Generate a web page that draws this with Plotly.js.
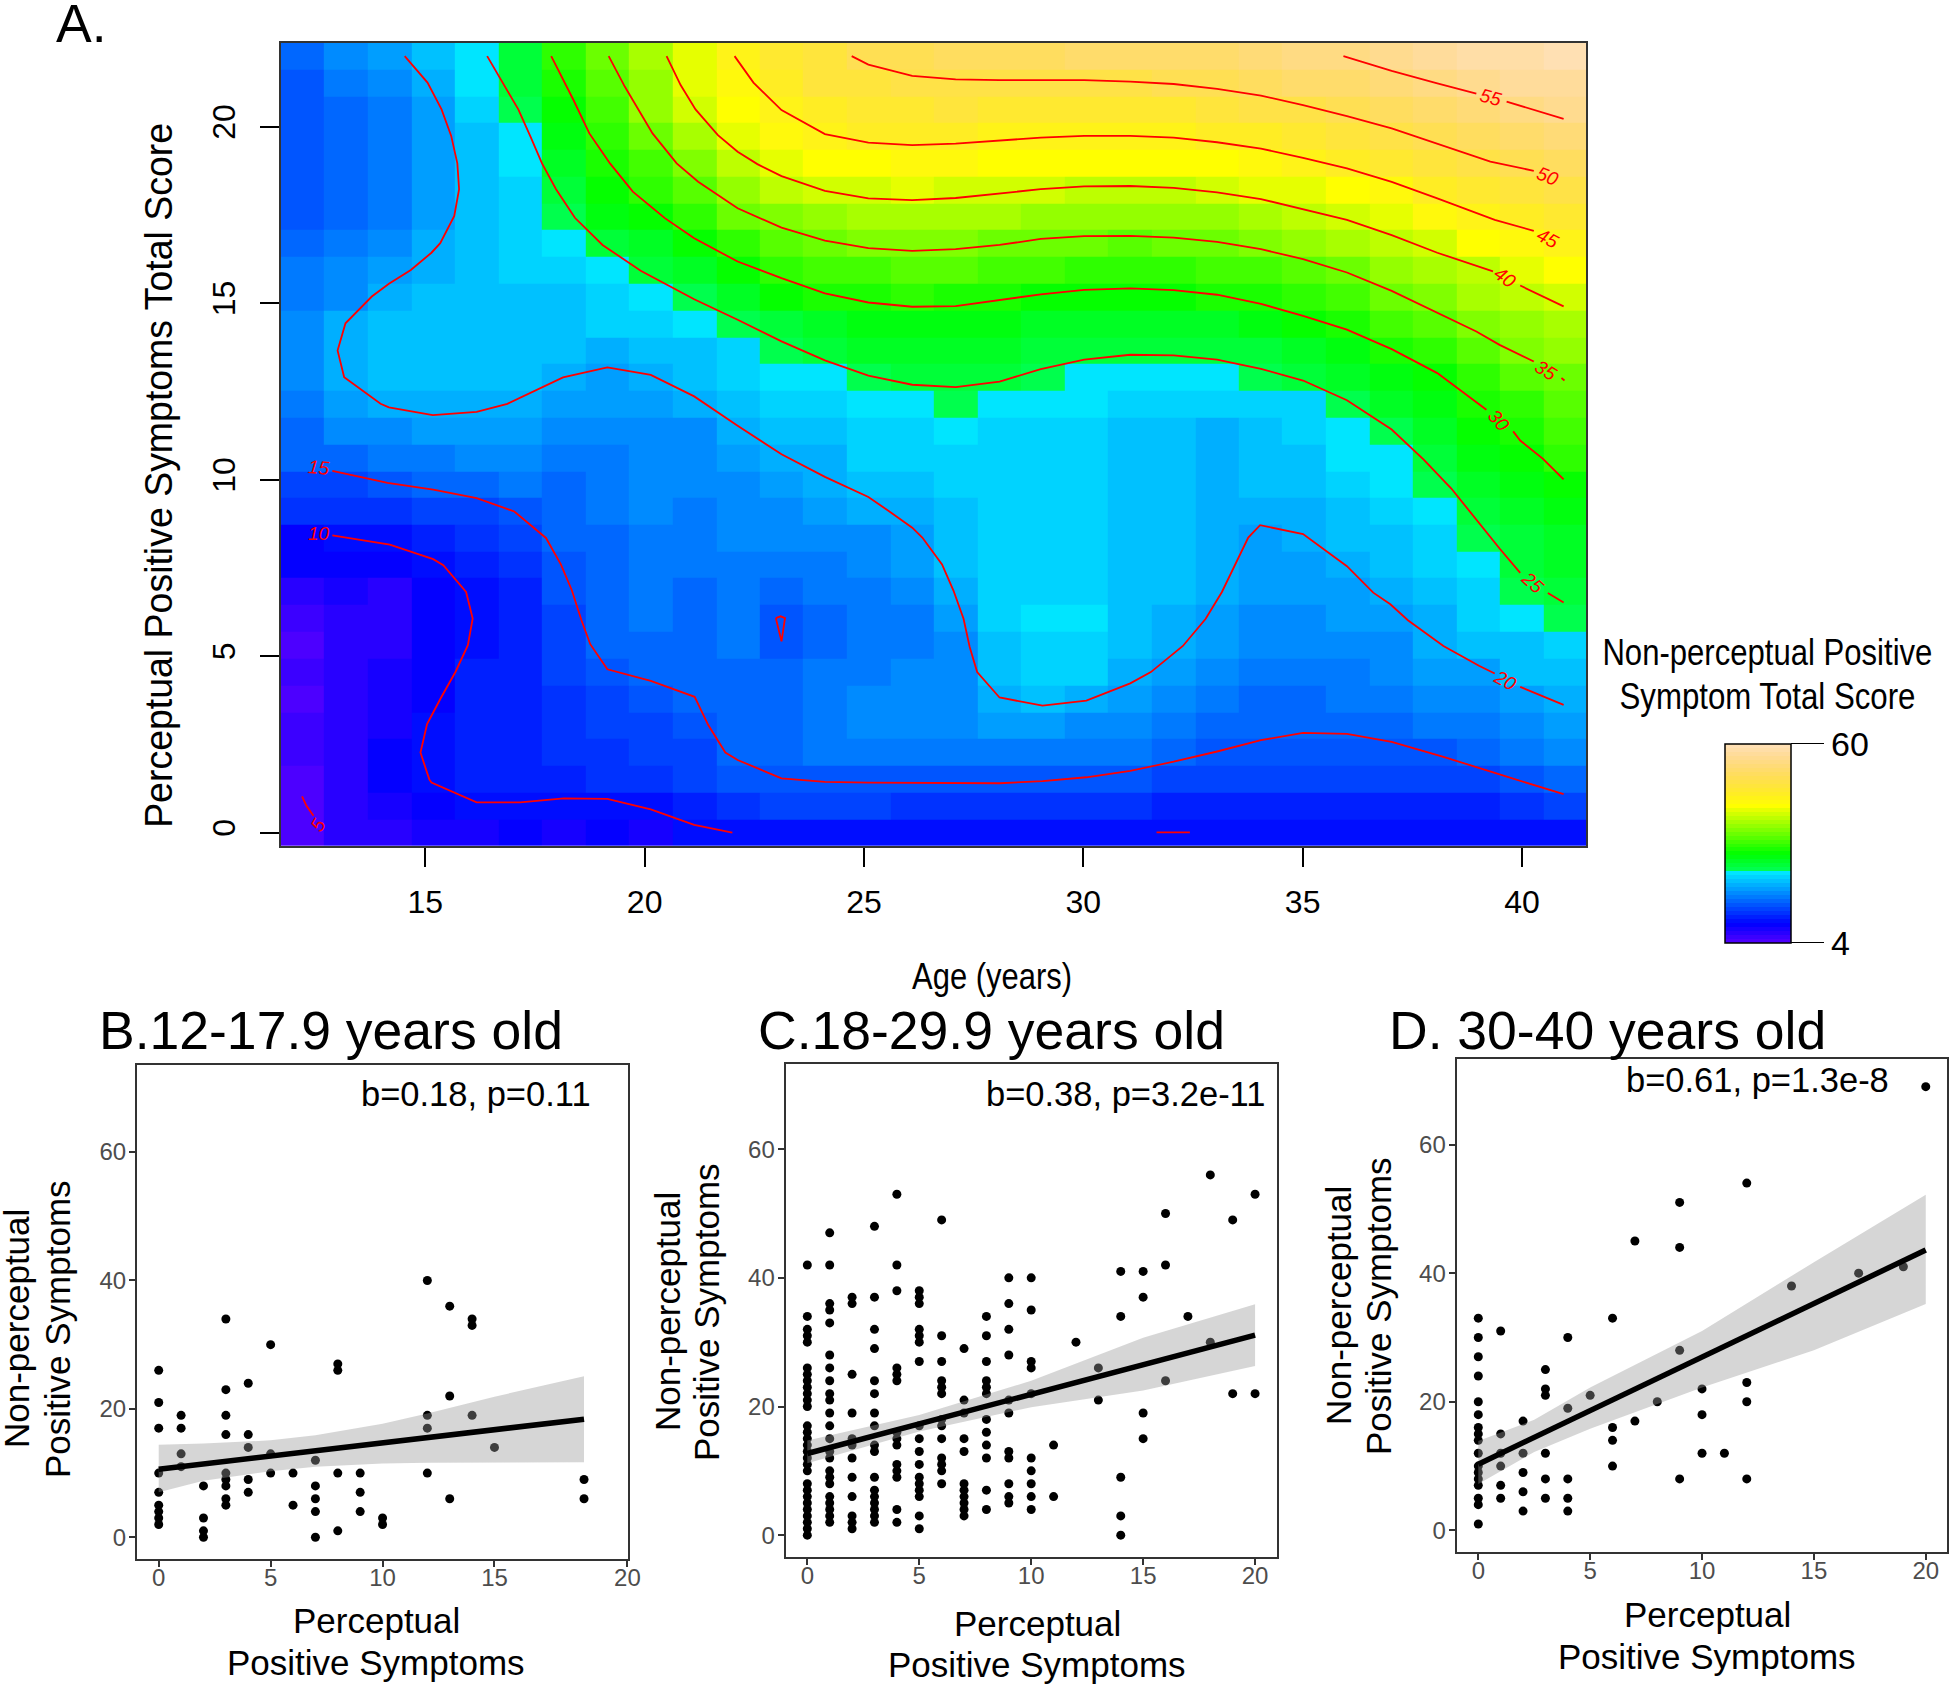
<!DOCTYPE html>
<html><head><meta charset="utf-8">
<script src="https://cdn.plot.ly/plotly-3.0.1.min.js"></script>
<style>html,body{margin:0;padding:0;background:#fff}#p{width:1950px;height:1686px}</style></head>
<body><div id="p"></div>
<script>
const W=1950,H=1686;
const SANS='"Liberation Sans", Arial, sans-serif';

// ---------- Panel A: grid ----------
const ages=[12.2,13.19,14.19,15.18,16.17,17.17,18.16,19.15,20.14,21.14,22.13,23.12,24.11,25.11,26.1,27.09,28.09,29.08,30.07,31.06,32.06,33.05,34.04,35.03,36.03,37.02,38.01,39.01,40,40.99];
const scores=[0,.76,1.52,2.28,3.03,3.79,4.55,5.31,6.07,6.83,7.59,8.34,9.1,9.86,10.62,11.38,12.14,12.9,13.66,14.41,15.17,15.93,16.69,17.45,18.21,18.97,19.72,20.48,21.24,22];
// one list per age column, lowest score first
const byAge=[
[4.8,5,5.1,5.8,6,5,5.8,5.1,6,6.8,8.5,9.5,12,14,15.5,16,17,18,18.5,18.5,16.5,16.5,15.5,15,14.7,14.5,14.5,14.5,15,15.5],
[6.5,7,7,7,7,7.3,7.3,6.3,6.3,7.5,9.3,10,12,14,16.2,17.5,19,20,20.3,20,18.5,17.5,17,16,15.7,15.3,15.3,15.7,16.5,18],
[7.3,8,9,9,8,7.8,7.8,7.3,7,7,9,10.4,12.7,14.8,16.5,18.2,20.2,21,21.3,21,20.7,19.3,18.2,17.2,16.7,16.5,16.5,16.5,17.5,19],
[8,9.3,10.2,10.5,10.3,9.5,9.3,9,8.8,8.9,9.7,11,13.3,15.3,17.2,19,20.7,21.5,21.8,21.8,21.3,20.7,19.8,19,18.7,18.7,18.9,19.6,20.3,21.5],
[8,9.8,10.8,11,11,11,10.8,10.5,10.2,10.5,11.3,12,13.8,15.8,18,19.5,20.6,21.5,21.7,21.6,21.5,20.8,20.8,20.8,20.8,21.5,21.7,23,23.2,24],
[8.5,10.2,11,11.6,11.6,11.6,11.6,11.6,11.6,11.6,12.6,13.8,15.2,16.5,18.4,19.5,20.3,21,21.8,21.8,21.8,22,22.5,23,23,24,24,25,25.5,26],
[8.3,9.8,11.7,12.1,12.2,12.6,13,13.5,14,14.7,15.1,15.5,15.8,16.2,17,18,19,20,21,21.4,21.6,22.8,23.5,24.5,25.7,27.1,28.3,29.5,29.8,31.5],
[8.5,9.9,12,12.8,13,13.8,14.9,15.4,15.6,15.8,16,16,16.4,16.7,17,17.5,18.9,19.5,20.7,22,22.7,24,25.3,27.8,28.8,30,31.8,33,33.9,34.9],
[8.2,10.3,12.7,13.5,14,15.2,15.8,16.3,16.7,17.3,17.3,17.4,17.5,17.6,17.7,18.2,19,19.9,20.8,23,24,25.5,27.5,29.5,31.5,33,34.6,36.5,37.5,38.6],
[9.7,11.8,13,14,14.8,15.3,15.8,15.9,16,16.2,16.5,16.7,17.3,17.5,17.8,18.5,19.8,20.8,21.8,24,25.2,27.3,29.5,31.5,34,36.2,38,40,41.1,42],
[10,12.7,14.5,15.5,16,16.1,16.3,16.4,16.6,16.9,17.3,17.5,18,18.5,19,19.8,21,22,23,24.7,27.2,29.3,31.5,34.5,37.3,39.3,41.2,42.5,43.8,45.4],
[10.5,13,15.1,16,15.8,15.6,15.3,14.9,15,15.8,16.5,17.5,18,19,19.8,21.3,22.3,23.2,24.3,26.4,28.8,31.1,33.7,36.2,39,41.7,43.5,45.1,46.3,47],
[10.6,13.2,14.9,16.9,17.2,17,16.5,16.2,16,16.5,17.3,18,19,19.7,20.7,21.8,22.6,24,25.8,27.3,29.8,32.1,34.7,37.4,40.1,42.6,44.9,46.5,47.8,48.8],
[10.5,13,15,17,18,17.5,17,16.7,16.5,17,17.7,18.5,19.7,20.9,22.3,23,24,25.1,26.7,28.1,30.3,32.6,35.4,38.1,40.8,43,45.5,47.2,48.8,50.5],
[10.3,12.7,14.8,17.1,18.2,18,17.5,17.4,17.3,18,18.7,19.4,20.6,21.7,22.6,23,24,25.4,27,28.5,30.9,33.4,35.8,38.5,41,43.4,45.7,47.6,49.5,51],
[10.2,12.5,14.7,17,18.1,18.2,18.3,18.5,19.2,20.2,21.4,21.4,21.4,22.5,22.5,23.6,24.4,25.8,27,28.3,30.8,33.3,35.6,38.4,40.8,43.2,45.6,47.7,49.7,51.3],
[10,12.3,14.6,16.8,18.9,20.1,21,21.9,22.2,22.5,22.5,22.5,22.5,22.5,22.5,22.5,23.5,25.3,26.8,28.2,30.4,32.9,35.1,37.9,40.3,42.7,45.3,47.5,49.8,51.6],
[10,12.3,14.9,17,18.9,21.2,22.2,22.4,23.4,22.7,22.7,22.7,22.7,22.7,22.5,22.5,23.5,24.5,26,27.4,29.7,32.3,34.4,37.2,39.9,42.5,45.1,47.2,49.8,52],
[10,12.2,14.7,16.4,18.3,20.3,22.2,22.5,23.4,22.7,22.7,22.7,22.7,22.7,22.5,22.5,23.5,24,25.7,27,29.3,31.7,34.3,36.9,39.6,42.3,44.9,47,49.8,52.3],
[9.9,12,14.5,16.4,18,19.5,20.3,20.8,21.5,21.5,21.5,21.5,21.5,21.5,21.4,21.4,22.5,23.9,25.3,27,29,31.5,34.1,36.8,39.5,42.2,44.9,47,49.9,52.6],
[9.8,11.5,13.8,15.5,16.6,18,19.3,20.2,20.7,21.4,21.4,21.4,21.4,20.9,21.4,21.4,22.5,24,25.4,27,29.3,31.8,34.3,37,39.7,42.4,45,47.1,50.1,52.9],
[9.7,11.2,13.4,15,15.8,16.5,17.5,18.8,19.5,20.2,20.7,20.7,20.7,20.5,20.2,20.2,22.5,23.9,25.6,27.5,29.8,32.2,34.8,37.5,40.2,43,45.5,47.8,50.6,53.2],
[9.7,11,13,14.5,15.6,16.2,16.9,17.8,18.3,18.8,19.2,19.6,20.3,21,21.4,21.6,22.5,24.6,26.4,28.3,30.5,33,35.4,38.2,41,43.7,46.2,48.9,51.5,53.6],
[9.7,11.2,13.4,15,15.7,16.3,16.9,17.5,17.8,18.8,19.3,19.7,20.7,21.2,21.6,22.5,22.8,25.3,27.3,29.2,31.5,34,36.5,39.2,41.8,44.5,47.2,49.6,52.2,54.4],
[9.8,11.2,13.3,15,15.8,16.6,17.3,18,18.7,19.4,20,20.8,21.5,22.4,23.3,24,24.8,26.7,28.5,30.5,32.8,35.2,37.6,40.3,43,45.5,48,50.6,53,55.2],
[9.8,11.1,13,14.6,16.2,16.9,17.6,18.5,19.3,20.5,21.2,21.8,22.3,23.2,24.1,25.1,26.6,27.6,29.8,32.2,34.5,36.5,39,41.5,44.3,46.8,49.2,51.6,54,56],
[9.8,11.3,13.3,15.1,16.8,17.8,18.7,19.8,20.5,21.2,22,23,24,24.4,25.7,27,28.2,29.6,31.8,34,36.2,38.5,40.7,43.2,45.7,48.2,50.5,52.8,54.9,56.9],
[9.8,11.5,13.7,15.9,17.3,18.5,19.6,20.9,22.1,23,24,24.3,25.5,26.5,27.6,28.8,29.9,31.9,33.7,35.7,37.7,39.8,42.2,44.8,47.2,49.4,51.7,53.7,55.9,57.8],
[10,12.2,15.1,16.9,18,19.3,20.8,21.9,23.9,24.4,25.4,26,27,28,28.9,30.5,31.5,33.3,35.4,37.3,39.3,41.2,43.4,45.9,48.2,50.4,52.6,54.6,56.8,58.6],
[10.6,13.3,16.2,17.5,18.9,20.4,21.8,23,24.4,25.3,26.5,27.5,28.5,29.6,31.1,32,33.5,35.2,36.9,38.7,40.6,42.3,45.3,47.5,49.7,51.9,53.8,55.8,57.7,59.4]
];

// ---------- Panel A: contour lines, [age, score] pairs; null marks a gap ----------
const contour5=[[12.19,1.03],[12.29,.76],[12.45,.48]];
const contour10=[[12.88,8.42],[14.19,8.16],[15.18,7.75],[15.41,7.58],[15.93,6.82],[16.08,6.07],[15.97,5.31],[15.69,4.56],[15.36,3.83],[15.04,3.08],[14.89,2.27],[15.09,1.51],[15.14,1.42],[16.17,.86],[17.16,.86],[18.16,.97],[19.15,.96],[20.14,.66],[21.13,.22],[22,0]];
const contour10b=[[31.67,.01],[32.43,.01]];
const contour15=[[12.88,10.25],[14.14,9.91],[15.18,9.72],[16.17,9.48],[17.03,9.1],[17.16,8.96],[17.75,8.35],[18.09,7.6],[18.34,6.87],[18.56,6.02],[18.76,5.34],[19.15,4.63],[20.14,4.3],[21.14,3.85],[21.45,3.05],[21.84,2.27],[22.12,2.06],[23.12,1.54],[24.11,1.44],[25.1,1.42],[27.46,1.4],[28.09,1.4],[29.07,1.46],[30.07,1.57],[31.07,1.75],[32.06,2.01],[33.05,2.3],[34.05,2.62],[35.01,2.83],[36.01,2.8],[37.03,2.57],[38.21,2.15],[39.49,1.65],[40.95,1.09]];
const contour15b=[[22.99,6.08],[23.1,6.13],[23.2,6.08],[23.12,5.42],[22.99,6.08]];
const contour20=[[14.53,22],[15.05,21.25],[15.37,20.49],[15.59,19.74],[15.73,18.96],[15.77,18.23],[15.66,17.47],[15.34,16.7],[15.14,16.43],[14.67,15.94],[14.17,15.55],[13.78,15.19],[13.18,14.43],[13,13.66],[13.15,12.9],[13.98,12.15],[14.17,12.05],[15.17,11.83],[16.17,11.92],[16.87,12.15],[18.14,12.9],[19.15,13.18],[20.14,12.97],[21.13,12.36],[22.12,11.53],[23.12,10.72],[24.11,10.08],[25.1,9.51],[25.58,9.1],[26.1,8.64],[26.33,8.36],[26.78,7.6],[27.04,6.86],[27.27,6.06],[27.41,5.26],[27.58,4.55],[28.09,3.83],[29.07,3.6],[30.07,3.74],[31.07,4.23],[31.54,4.55],[32.27,5.29],[32.79,6.06],[33.16,6.82],[33.76,8.36],[34.03,8.71],[35.01,8.46],[36.01,7.55],[36.61,6.8],[37,6.47],[37.4,6.02],[38.21,5.29],[39.02,4.73],[39.38,4.51],[null,null],[39.96,4.13],[40.95,3.62]];
const contour25=[[16.41,22],[16.69,21.42],[17.12,20.49],[17.39,19.74],[17.66,18.96],[17.98,18.23],[18.41,17.42],[19.04,16.65],[19.91,15.92],[21.13,15.11],[22.12,14.53],[23.12,13.92],[24.11,13.38],[25.1,12.95],[26.1,12.69],[27.09,12.62],[28.09,12.78],[29.03,13.13],[30.02,13.4],[31.07,13.54],[32.06,13.52],[33.05,13.4],[34.05,13.14],[35.01,12.81],[36.01,12.25],[37.03,11.42],[37.29,11.11],[37.76,10.57],[38.39,9.75],[39.02,8.76],[39.49,8.05],[39.96,7.36],[null,null],[40.59,6.79],[40.95,6.52]];
const contour30=[[17.87,22],[18.38,20.75],[18.74,19.81],[19.21,18.96],[19.73,18.16],[20.46,17.41],[21.13,16.84],[22.12,16.18],[23.12,15.71],[24.11,15.28],[25.1,15.02],[26.1,14.9],[27.09,14.92],[28.09,15.08],[29.03,15.25],[30.02,15.38],[31.07,15.42],[32.06,15.37],[33.05,15.24],[34.05,14.98],[35.01,14.64],[36.01,14.25],[37.03,13.7],[38.07,13.02],[39.19,11.98],[null,null],[39.8,11.37],[39.96,11.11],[40.48,10.59],[40.95,10.01]];
const contour35=[[19.18,22],[19.55,21.13],[20.18,19.81],[20.73,18.96],[21.22,18.44],[22.12,17.69],[23.12,17.14],[24.11,16.77],[25.1,16.56],[26.1,16.48],[27.09,16.53],[28.09,16.65],[29.03,16.82],[30.02,16.9],[31.07,16.91],[32.06,16.86],[33.05,16.74],[34.05,16.53],[35.01,16.25],[36.01,15.87],[37.03,15.35],[38.07,14.72],[38.96,14.2],[39.49,13.82],[40.27,13.35],[null,null],[40.9,12.88],[40.97,12.81]];
const contour40=[[20.5,22],[20.82,21.18],[21.16,20.49],[21.67,19.76],[22.12,19.29],[22.57,18.94],[23.12,18.6],[24.11,18.18],[25.1,17.97],[26.1,17.92],[27.09,17.98],[28.09,18.11],[29.03,18.23],[30.02,18.31],[31.07,18.32],[32.06,18.27],[33.05,18.14],[34.05,17.95],[35.01,17.67],[36.01,17.36],[37.03,16.93],[38.07,16.43],[39.34,15.9],[null,null],[39.96,15.5],[40.95,14.91]];
const contour45=[[22.05,22],[22.48,21.25],[23.12,20.47],[24.11,19.79],[25.1,19.55],[26.1,19.48],[27.09,19.52],[28.09,19.6],[29.03,19.69],[30.02,19.74],[31.07,19.74],[32.06,19.69],[33.05,19.56],[34.05,19.38],[35.01,19.12],[36.01,18.82],[37.03,18.44],[38.07,17.97],[39.38,17.36],[40.27,17.05]];
const contour50=[[24.72,22],[25.1,21.76],[26.1,21.44],[27.09,21.34],[28.09,21.32],[29.03,21.32],[30.02,21.32],[31.07,21.28],[32.06,21.21],[33.05,21.07],[34.05,20.88],[35.01,20.61],[36.01,20.3],[37.03,19.95],[38.07,19.51],[39.28,19.01],[40.27,18.75]];
const contour55=[[35.93,22],[37.03,21.58],[38.07,21.23],[38.96,20.94],[null,null],[39.65,20.71],[40.95,20.22]];
const contourLabels=[["5",12.57,.22,-60],["10",12.57,8.49,0],["15",12.57,10.34,5],["20",39.62,4.32,28],["25",40.24,7.08,42],["30",39.47,11.68,48],["35",40.55,13.09,32],["40",39.62,15.72,36],["45",40.6,16.84,28],["50",40.6,18.6,22],["55",39.3,20.82,14]];

// ---------- Panel B ----------
const bX=[0,0,0,0,0,0,0,0,0, 1,1,1,1, 2,2,2,2, 3,3,3,3,3,3,3,3,3, 4,4,4,4,4, 5,5,5, 6,6, 7,7,7,7,7, 8,8,8,8, 9,9,9, 10,10, 12,12,12,12, 13,13,13, 14,14,14, 15, 19,19];
const bY=[26,21,17,10,7,5,4,3,2, 19,17,13,11, 8,3,1,0, 34,23,19,16,10,9,8,6,5, 24,16,14,9,7, 30,13,10, 10,5, 12,8,6,4,0, 27,26,10,1, 10,7,4, 3,2, 40,19,17,10, 36,22,6, 34,33,19, 14, 9,6];
const bFitX=[0,19], bFitY=[10.6,18.4];
const bCiX=[0,2,5,7,10,12,15,19];
const bCiHi=[14.4,14.6,15.1,15.9,17.7,19.3,21.9,25.1];
const bCiLo=[7,8.8,10.3,11,11.5,11.6,11.7,11.7];
// ---------- Panel C ----------
const cX=[0,0,0,0,0,0,0,0,0,0,0,0,0,0,0,0,0,0,0,0,0,0,0,0,0,0,0,0,0,
1,1,1,1,1,1,1,1,1,1,1,1,1,1,1,1,1,1,1,1,1,1,1,
2,2,2,2,2,2,2,2,2,2,2,2,
3,3,3,3,3,3,3,3,3,3,3,3,3,3,3,3,3,
4,4,4,4,4,4,4,4,4,4,4,4,4,4,
5,5,5,5,5,5,5,5,5,5,5,5,5,5,5,5,5,
6,6,6,6,6,6,6,6,6,6,6,6,6,
7,7,7,7,7,7,7,7,7,7,7,
8,8,8,8,8,8,8,8,8,8,8,8,
9,9,9,9,9,9,9,9,9,9,9,
10,10,10,10,10,10,10,10,10,10,
11,11,12,13,13,14,14,14,14,14,15,15,15,15,16,16,16,17,18,18,19,19,20,20];
const cY=[42,34,32,31,30,26,25,24,23,22,21,20,17,16,15,14,13,12,11,10,8,7,6,5,4,3,2,1,0,
47,42,36,35,33,28,26,24,22,21,19,17,15,13,12,10,9,8,6,5,4,3,2,
37,36,25,19,15,14,12,9,6,3,2,1,
48,37,32,29,24,22,19,17,14,13,9,7,6,5,4,3,2,
53,42,38,26,25,24,16,15,14,11,10,9,4,2,
38,37,36,32,31,30,27,17,15,13,11,9,8,7,6,3,1,
49,31,27,24,23,22,18,17,15,12,11,10,8,
29,21,19,15,13,8,7,6,5,4,3,
34,31,27,24,23,22,18,16,14,12,7,4,
40,36,32,28,21,19,13,12,8,6,5,
40,35,27,26,22,12,10,8,6,4,
14,6,30,26,21,41,34,9,3,0,41,37,19,15,50,42,24,34,56,30,49,22,53,22];
const cFitX=[0,20], cFitY=[12.7,31.1];
const cCiX=[0,5,10,15,20];
const cCiHi=[14.7,18.7,24,30.7,35.9];
const cCiLo=[11.2,16.1,19.9,22.5,26.3];
// ---------- Panel D ----------
const dX=[0,0,0,0,0,0,0,0,0,0,0,0,0,0,0,0,0, 1,1,1,1,1,1, 2,2,2,2,2, 3,3,3,3,3,3, 4,4,4,4,4, 5, 6,6,6,6, 7,7, 8, 9,9,9,9, 10,10,10, 11, 12,12,12,12, 14, 17, 19, 20];
const dY=[33,30,27,24,20,18,16,15,14,12,10,9,8,7,5,4,1, 31,15,12,10,7,5, 17,12,9,6,3, 25,22,21,12,8,5, 30,19,8,5,3, 21, 33,16,14,10, 45,17, 20, 51,44,28,8, 22,18,12, 12, 54,23,20,8, 38, 40, 41, 69];
const dFitX=[0,20], dFitY=[10.3,43.6];
const dCiX=[0,2.5,5,10,15,20];
const dCiHi=[13.9,17.2,22.2,31,41.7,52.2];
const dCiLo=[7.2,12.2,15.8,22.2,28,35.2];

// R topo.colors(50)
function hsv(h,s,v){const i=Math.floor(h*6),f=h*6-i,p=v*(1-s),q=v*(1-f*s),t=v*(1-(1-f)*s);
 const r=[v,q,p,p,t,v][i%6],g=[t,v,v,q,p,p][i%6],b=[p,p,t,v,v,q][i%6];
 return `rgb(${Math.round(r*255)},${Math.round(g*255)},${Math.round(b*255)})`;}
function seq(a,b,n){return Array.from({length:n},(_,k)=>n==1?a:a+(b-a)*k/(n-1));}
const steps=[].concat(seq(43/60,31/60,18).map(h=>hsv(h,1,1)),seq(23/60,11/60,16).map(h=>hsv(h,1,1)),
  seq(10/60,6/60,16).map((h,k)=>hsv(h,1-.7*k/15,1)));
const topo=[];steps.forEach((c,k)=>{topo.push([k/50,c]);topo.push([(k+1)/50,c]);});

const zMatrix=scores.map((_,j)=>ages.map((_,i)=>byAge[i][j]));

function dom(a,b,size){return [a/size,b/size];}
function vdom(top,bot){return [1-bot/H,1-top/H];}
const traces=[];
traces.push({type:'heatmap',x:ages,y:scores,z:zMatrix,zmin:4,zmax:60,colorscale:topo,xaxis:'x',yaxis:'y',hoverinfo:'skip',
  colorbar:{x:1725/W,xanchor:'left',y:1-942.7/H,yanchor:'bottom',len:199.4,lenmode:'pixels',thickness:65.7,thicknessmode:'pixels',xpad:0,ypad:0,
    outlinecolor:'#000',outlinewidth:1.5,tickvals:[4,60],ticktext:['4','60'],ticks:'outside',ticklen:33,tickcolor:'#000',tickwidth:1.5,
    tickfont:{family:SANS,size:34,color:'#000'}}});
[contour5,contour10,contour10b,contour15,contour15b,contour20,contour25,contour30,contour35,contour40,contour45,contour50,contour55].forEach(c=>{
  traces.push({type:'scatter',mode:'lines',x:c.map(p=>p[0]),y:c.map(p=>p[1]),xaxis:'x',yaxis:'y',line:{color:'#ff0000',width:1.8},hoverinfo:'skip',connectgaps:false});
});
function panel(xa,ya,X,Y,fx,fy,cx,hi,lo){
  traces.push({type:'scatter',mode:'markers',x:X,y:Y,xaxis:xa,yaxis:ya,marker:{color:'#000',size:9,line:{width:0}},hoverinfo:'skip'});
  traces.push({type:'scatter',mode:'lines',x:cx.concat(cx.slice().reverse()),y:hi.concat(lo.slice().reverse()),xaxis:xa,yaxis:ya,fill:'toself',fillcolor:'rgba(153,153,153,0.4)',line:{width:0,color:'rgba(0,0,0,0)'},hoverinfo:'skip'});
  traces.push({type:'scatter',mode:'lines',x:fx,y:fy,xaxis:xa,yaxis:ya,line:{color:'#000',width:5.5},hoverinfo:'skip'});
}
panel('x2','y2',bX,bY,bFitX,bFitY,bCiX,bCiHi,bCiLo);
panel('x3','y3',cX,cY,cFitX,cFitY,cCiX,cCiHi,cCiLo);
panel('x4','y4',dX,dY,dFitX,dFitY,dCiX,dCiHi,dCiLo);

const small=(dx,rng,tv,tt,off)=>({domain:dx,range:rng,tickvals:tv,ticktext:tt,ticks:'outside',ticklen:6,tickwidth:2,tickcolor:'#333',showgrid:false,zeroline:false,showline:true,mirror:true,linecolor:'#333',linewidth:2,tickfont:{family:SANS,size:24,color:'#4d4d4d'},ticklabelstandoff:off});
const layout={width:W,height:H,margin:{l:0,r:0,t:0,b:0},paper_bgcolor:'#fff',plot_bgcolor:'#fff',showlegend:false,
 xaxis:{domain:dom(281,1586,W),range:[11.71,41.46],tickvals:[15,20,25,30,35,40],ticks:'outside',ticklen:19,tickwidth:2,tickcolor:'#000',showline:true,mirror:true,linecolor:'#333',linewidth:2,showgrid:false,zeroline:false,tickfont:{family:SANS,size:32,color:'#000'},anchor:'y',ticklabelstandoff:8},
 yaxis:{domain:vdom(42.7,846),range:[-.377,22.38],tickvals:[0,5,10,15,20],ticks:'outside',ticklen:19,tickwidth:2,tickcolor:'#000',showline:true,mirror:true,linecolor:'#333',linewidth:2,showgrid:false,zeroline:false,tickangle:-90,tickfont:{family:SANS,size:32,color:'#000'},anchor:'x',ticklabelstandoff:12},
 xaxis2:Object.assign(small(dom(137,627.9,W),[-.97,20.96],[0,5,10,15,20.94],['0','5','10','15','20'],-10),{anchor:'y2'}),
 yaxis2:Object.assign(small(vdom(1065.4,1558.8),[-3.35,73.5],[0,20,40,60],['0','20','40','60'],-2),{anchor:'x2'}),
 xaxis3:Object.assign(small(dom(785.6,1276.8,W),[-.97,20.97],[0,5,10,15,20],['0','5','10','15','20'],-10),{anchor:'y3'}),
 yaxis3:Object.assign(small(vdom(1063.6,1557),[-3.39,73.3],[0,20,40,60],['0','20','40','60'],-2),{anchor:'x3'}),
 xaxis4:Object.assign(small(dom(1456.6,1947,W),[-.97,20.95],[0,5,10,15,20],['0','5','10','15','20'],-10),{anchor:'y4'}),
 yaxis4:Object.assign(small(vdom(1059,1551.8),[-3.33,73.3],[0,20,40,60],['0','20','40','60'],-2),{anchor:'x4'}),
 annotations:[]};
function note(text,px,py,size,opt){layout.annotations.push(Object.assign({text,xref:'paper',yref:'paper',x:px/W,y:1-py/H,showarrow:false,xanchor:'center',yanchor:'middle',font:{family:SANS,size,color:'#000'}},opt||{}));}
note('A.',54,24,53.5,{xanchor:'left'});
note('B.12-17.9 years old',97,1030,53.5,{xanchor:'left'});
note('C.18-29.9 years old',756,1030,53.5,{xanchor:'left'});
note('D. 30-40 years old',1387,1030,53.5,{xanchor:'left'});
note('Perceptual Positive Symptoms Total Score',159,476,38,{textangle:-90});
note('Age (years)',992,976,36);
note('Non-perceptual Positive',1767,652,37);
note('Symptom Total Score',1767,697,37);
note('b=0.18, p=0.11',593,1094,34.5,{xanchor:'right'});
note('b=0.38, p=3.2e-11',1267,1094,34.5,{xanchor:'right'});
note('b=0.61, p=1.3e-8',1891,1080,34.5,{xanchor:'right'});
[[376,1620,1662,16,57,1329],[1037,1623,1664,667,706,1312],[1707,1614,1656,1338,1378,1306]].forEach(a=>{
 note('Perceptual',a[0],a[1],35);note('Positive Symptoms',a[0],a[2],35);
 note('Non-perceptual',a[3],a[5],35,{textangle:-90});note('Positive Symptoms',a[4],a[5],35,{textangle:-90});
});
contourLabels.forEach(l=>{layout.annotations.push({text:l[0],xref:'x',yref:'y',x:l[1],y:l[2],showarrow:false,textangle:l[3],xanchor:'center',yanchor:'middle',font:{family:SANS,size:19,color:'#ff0000',style:'italic'}});});
// panel A's reference type is condensed and no narrow face is installed: condense the real text
const condensed={'Perceptual Positive Symptoms Total Score':705,'Age (years)':160,'Non-perceptual Positive':330,'Symptom Total Score':296};
Plotly.newPlot('p',traces,layout,{staticPlot:true,displayModeBar:false}).then(()=>{
  document.querySelectorAll('.annotation-text').forEach(t=>{
    const len=condensed[t.textContent];
    if(len){t.setAttribute('textLength',len);t.setAttribute('lengthAdjust','spacingAndGlyphs');}
  });
});
</script></body></html>
